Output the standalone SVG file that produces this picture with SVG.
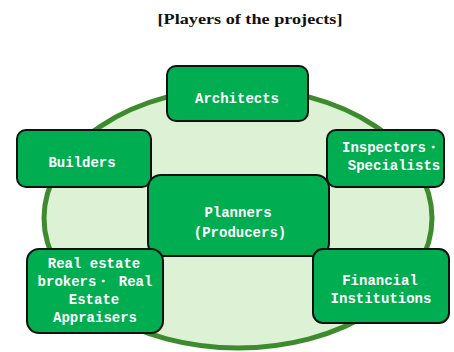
<svg xmlns="http://www.w3.org/2000/svg" width="454" height="352" viewBox="0 0 454 352">
<style>
.node rect{fill:#00ad50;stroke:#111;stroke-width:2}
.node text{fill:#fff;font-family:"Liberation Mono","DejaVu Sans Mono",monospace;font-weight:bold;font-size:14px;text-anchor:middle}
.title{font-family:"Liberation Serif","Times New Roman",serif;font-weight:bold;font-size:15px;text-anchor:middle;fill:#111}
</style>
<rect width="454" height="352" fill="#fff"/>
<text class="title" x="250" y="24" textLength="185" lengthAdjust="spacingAndGlyphs">[Players of the projects]</text>
<g id="background">
<ellipse cx="238" cy="218" rx="194" ry="130" fill="#ddf2d4" stroke="#3d8b2e" stroke-width="5"/>
</g>
<g id="connectors"></g>
<g id="architects" class="node">
<rect x="167" y="66" width="141" height="55" rx="9"/>
<text x="237" y="103">Architects</text>
</g>
<g id="builders" class="node">
<rect x="17" y="130" width="134" height="57" rx="9"/>
<text x="82" y="167">Builders</text>
</g>
<g id="inspectors" class="node">
<rect x="327" y="130" width="117" height="57" rx="9"/>
<text x="391" y="152">Inspectors・</text>
<text x="394" y="170">Specialists</text>
</g>
<g id="planners" class="node">
<rect x="148" y="175" width="181" height="81" rx="13"/>
<text x="238" y="217">Planners</text>
<text x="240" y="237">(Producers)</text>
</g>
<g id="realestate" class="node">
<rect x="27" y="249" width="136" height="84" rx="12"/>
<text x="94" y="268">Real estate</text>
<text x="95" y="286">brokers・ Real</text>
<text x="94" y="304">Estate</text>
<text x="95" y="322">Appraisers</text>
</g>
<g id="financial" class="node">
<rect x="313" y="249" width="136" height="74" rx="10"/>
<text x="380" y="285">Financial</text>
<text x="381" y="303">Institutions</text>
</g>
</svg>
